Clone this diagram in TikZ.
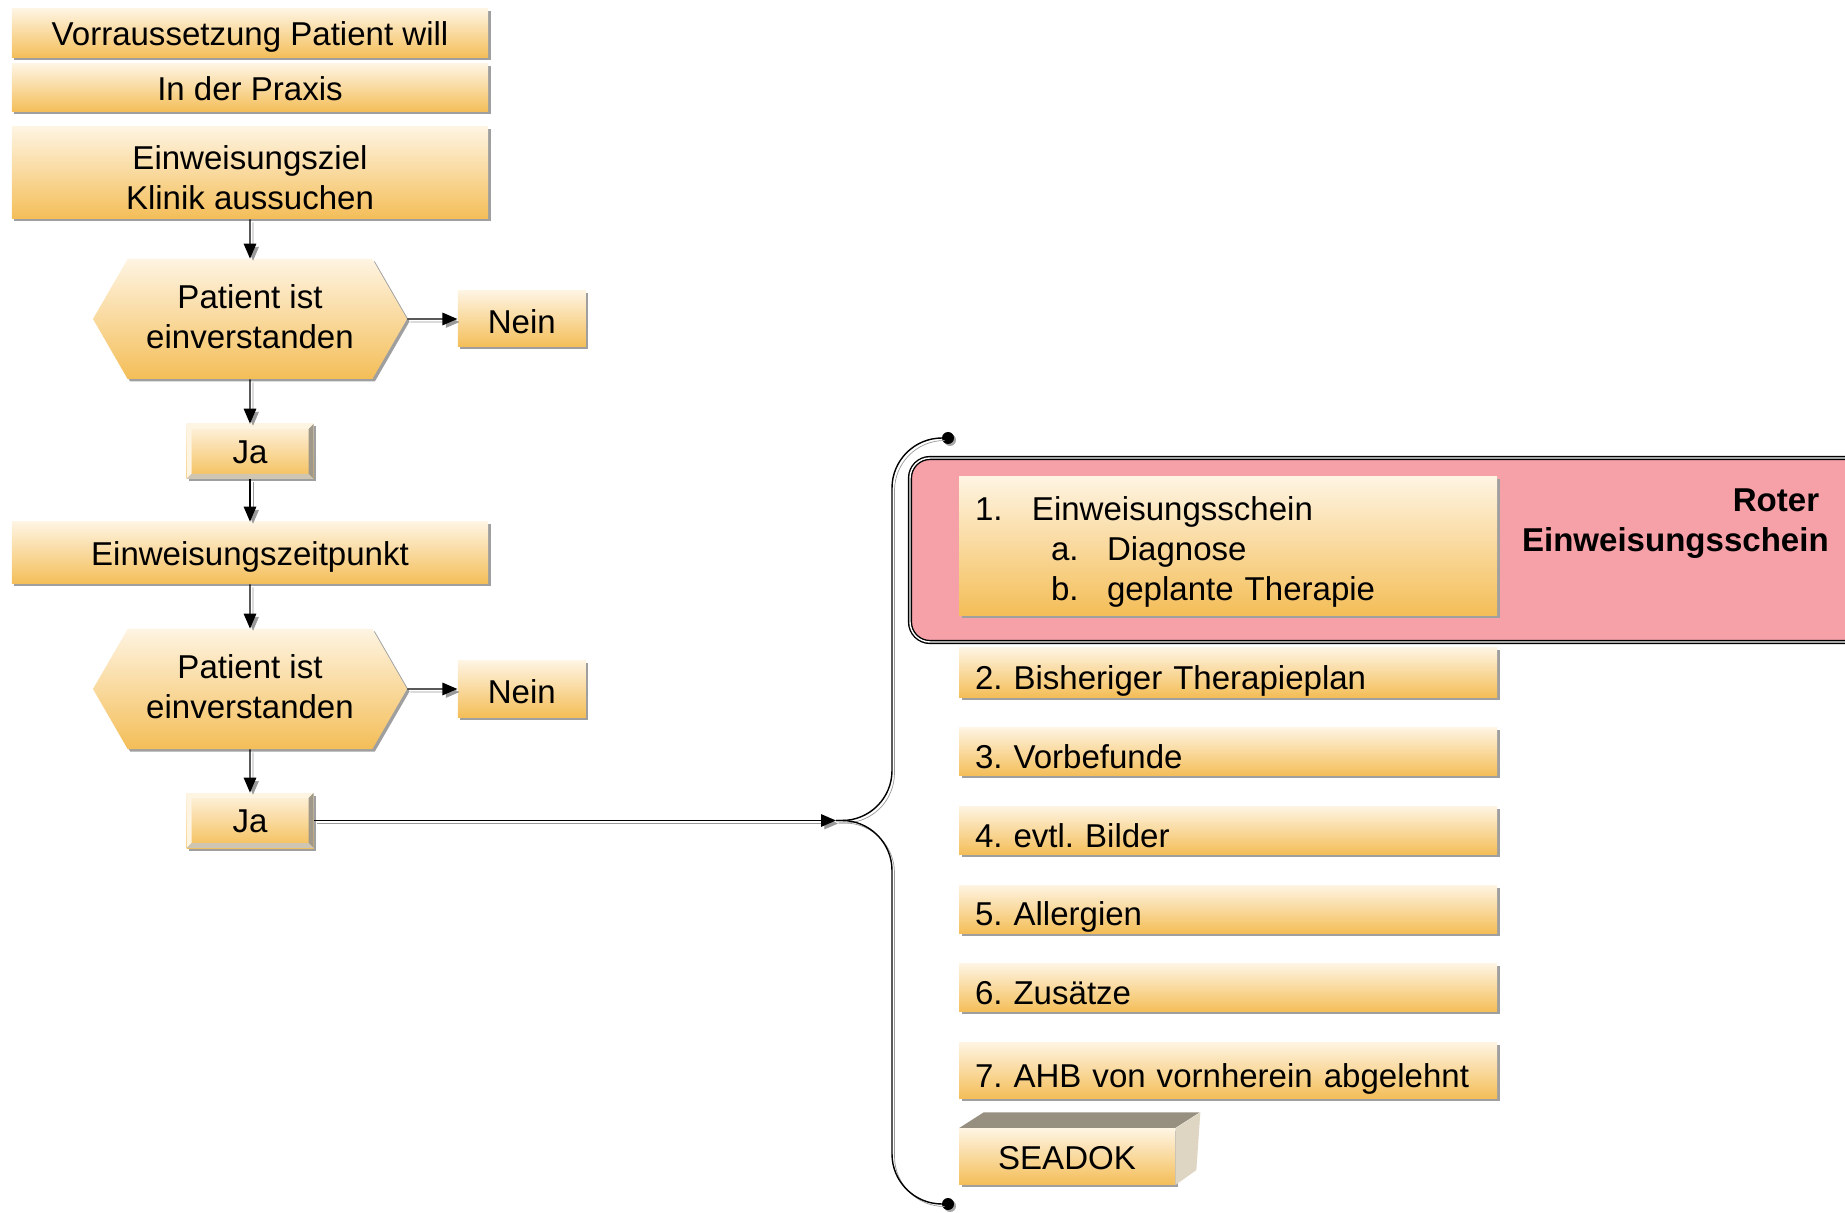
\documentclass[tikz,border=0pt]{standalone}
\usepackage{fontspec}
\setmainfont{Liberation Sans}
\frenchspacing
\usetikzlibrary{arrows.meta,shapes.symbols,shadows,positioning}

\definecolor{boxtop}{RGB}{254,244,226}
\definecolor{boxbot}{RGB}{244,190,88}
\definecolor{bevdark}{RGB}{160,152,136}
\definecolor{bevlight}{RGB}{206,197,178}
\definecolor{roterfill}{RGB}{246,160,168}
\definecolor{seatop}{RGB}{151,143,128}
\definecolor{seaside}{RGB}{222,213,195}

\tikzset{
    box/.style={shading=axis, top color=boxtop, bottom color=boxbot, inner sep=0pt,
        minimum width=95.2mm, align=center,
        drop shadow={shadow xshift=0.5mm, shadow yshift=-0.5mm, fill=gray!75, opacity=1}},
    eine/.style={text height=14pt, text depth=0pt},
    hexa/.style={box, signal, signal to=west and east, signal pointer angle=120,
        minimum width=62.8mm, minimum height=24mm},
    nein/.style={box, text height=16pt, text depth=0pt, minimum width=25.6mm, minimum height=11.2mm},
    jabox/.style={box, eine, minimum width=25.4mm, minimum height=11mm,
        path picture={
            \fill[boxtop] (path picture bounding box.south west) -- (path picture bounding box.north west)
                -- (path picture bounding box.north east) -- ([shift={(-1mm,-1mm)}]path picture bounding box.north east)
                -- ([shift={(1mm,-1mm)}]path picture bounding box.north west) -- ([shift={(1mm,1mm)}]path picture bounding box.south west) -- cycle;
            \fill[bevdark] (path picture bounding box.north east) -- (path picture bounding box.south east)
                -- ([shift={(-1mm,1mm)}]path picture bounding box.south east) -- ([shift={(-1mm,-1mm)}]path picture bounding box.north east) -- cycle;
            \fill[bevlight] (path picture bounding box.south west) -- (path picture bounding box.south east)
                -- ([shift={(-1mm,1mm)}]path picture bounding box.south east) -- ([shift={(1mm,1mm)}]path picture bounding box.south west) -- cycle;
        }},
    item/.style={box, minimum width=107.6mm, text width=101.2mm, inner xsep=3.2mm, align=left, minimum height=9.6mm,
        text height=19pt, text depth=0pt},
    link/.style={->, line width=0.8pt, preaction={draw=gray!80, transform canvas={xshift=0.6mm, yshift=-0.6mm}}},
    brace/.style={line width=0.8pt, rounded corners=10mm, preaction={draw=gray!80, transform canvas={xshift=0.5mm, yshift=-0.5mm}}},
    dot/.style={circle, fill=black, inner sep=0pt, minimum size=2.4mm,
        drop shadow={shadow xshift=0.4mm, shadow yshift=-0.4mm, fill=gray!70, opacity=1}}
}

\begin{document}
\begin{tikzpicture}[x=0.2mm, y=-0.2mm, >={Triangle[length=3mm,width=2.5mm]},
    font=\fontsize{18.8}{22.8}\selectfont]
    \useasboundingbox (0,0) rectangle (1845,1213);

    % linke Spalte
    \node[box, eine, minimum height=9.8mm] (vor) at (250,33.5) {Vorraussetzung Patient will};
    \node[box, eine, minimum height=9.6mm] (praxis) at (250,88) {In der Praxis};
    \node[box, minimum height=18.4mm] (ziel) at (250,173) {\rule{0pt}{19.4pt}Einweisungsziel\\Klinik aussuchen};
    \node[hexa] (frage1) at (250,319) {Patient ist\\einverstanden\rule[-2.7pt]{0pt}{0pt}};
    \node[nein] (nein1) [right=10mm of frage1] {Nein};
    \node[jabox] (ja1) at (250,451.5) {Ja};
    \node[box, eine, minimum height=12.4mm] (zeit) at (250,553) {Einweisungszeitpunkt};
    \node[hexa] (frage2) at (250,689) {Patient ist\\einverstanden\rule[-2.7pt]{0pt}{0pt}};
    \node[nein] (nein2) [right=10mm of frage2] {Nein};
    \node[jabox] (ja2) at (250,820.5) {Ja};

    \draw[link] (ziel) -- (frage1);
    \draw[link] (frage1) -- (nein1);
    \draw[link] (frage1) -- (ja1);
    \draw[link] (ja1) -- (zeit);
    \draw[link] (zeit) -- (frage2);
    \draw[link] (frage2) -- (nein2);
    \draw[link] (frage2) -- (ja2);

    % Klammer
    \coordinate (spitze) at (836,820.5);
    \node[dot] (oben) at (948,438) {};
    \node[dot] (unten) at (948,1204) {};
    \draw[link] (ja2) -- (spitze);
    \draw[brace] (spitze) -- ++(56,0) |- (oben);
    \draw[brace] (spitze) -- ++(56,0) |- (unten);

    % roter Einweisungsschein
    \node[draw=black, line width=0.8pt, double=white, double distance=0.8pt, rounded corners=4mm,
        fill=roterfill, minimum width=198mm, minimum height=36.8mm] (roter) at (1405,550) {};
    \node[font=\fontsize{18.8}{22.8}\selectfont\bfseries, align=right, anchor=east, inner sep=0pt]
        (roterlabel) at (1829,524) {Roter\hspace*{1.9mm}\\Einweisungsschein};

    % Unterlagen
    \node[item, minimum height=27.6mm, text height=, text depth=] (i1) at (1228,546)
        {\rule{0pt}{20.5pt}\makebox[11.4mm][l]{1.}Einweisungsschein\\
         \hspace*{15.2mm}\makebox[11.2mm][l]{a.}Diagnose\\
         \hspace*{15.2mm}\makebox[11.2mm][l]{b.}geplante Therapie};
    \node[item, minimum height=9.8mm] (i2) at (1228,672.5) {2. Bisheriger Therapieplan};
    \node[item] (i3) [below=6mm of i2] {3. Vorbefunde};
    \node[item] (i4) [below=6mm of i3] {4. evtl. Bilder};
    \node[item] (i5) [below=6mm of i4] {5. Allergien};
    \node[item] (i6) [below=6mm of i5] {6. Zusätze};
    \node[item, minimum height=11.2mm] (i7) [below=6mm of i6] {7. AHB von vornherein abgelehnt};

    \fill[seatop] ([yshift=-5.9mm]i7.south west) -- ++(5mm,3.2mm) -- ++(43.2mm,0) -- ++(-5mm,-3.2mm) -- cycle;
    \node[box, eine, minimum width=43.2mm, minimum height=11.2mm, anchor=north west, drop shadow={opacity=0}]
        (seadok) at ([yshift=-5.9mm]i7.south west) {SEADOK};
    \fill[seaside] (seadok.north east) -- ++(5mm,3.2mm) -- ([shift={(4.2mm,3mm)}]seadok.south east) -- (seadok.south east) -- cycle;
\end{tikzpicture}
\end{document}
